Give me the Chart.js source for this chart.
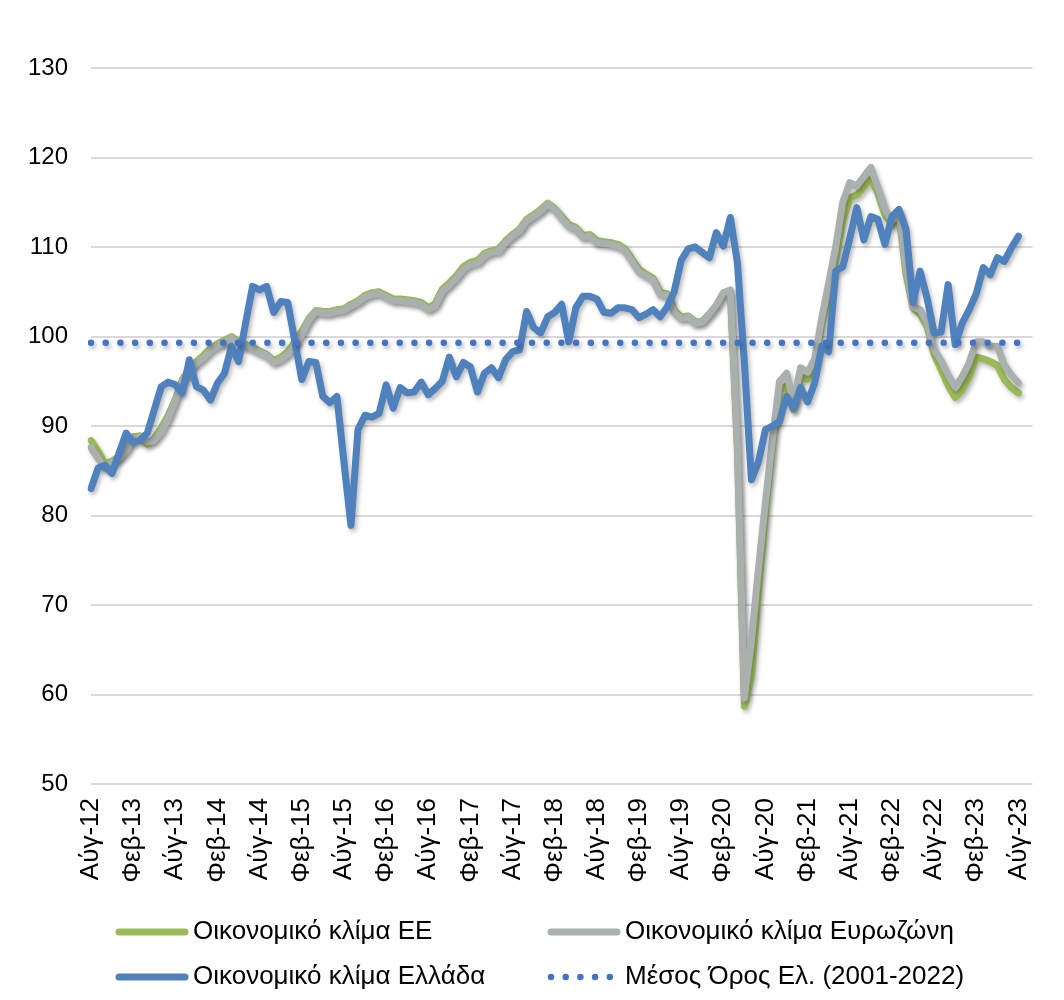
<!DOCTYPE html>
<html>
<head>
<meta charset="utf-8">
<script src="https://cdn.jsdelivr.net/npm/chart.js@4.4.0/dist/chart.umd.min.js"></script>
<style>
  body { margin: 0; background: #fff; }
  #wrap { width: 1064px; height: 1000px; }
</style>
</head>
<body>
<div id="wrap"><canvas id="climate-chart" width="1064" height="1000"></canvas></div>
<script>
// months from Aug 2012 to Aug 2023 (133 points)
const monthNames = ['Ιαν', 'Φεβ', 'Μαρ', 'Απρ', 'Μάι', 'Ιούν', 'Ιούλ', 'Αύγ', 'Σεπ', 'Οκτ', 'Νοέ', 'Δεκ'];
const startMonth = 7;   // Αύγ
const startYear = 12;
const pointCount = 133;
const extraSlots = 2;   // empty room on the right of the last point

const seriesNames = [
    'Οικονομικό κλίμα ΕΕ',
    'Οικονομικό κλίμα Ευρωζώνη',
    'Οικονομικό κλίμα Ελλάδα',
    'Μέσος Όρος Ελ. (2001-2022)'
];

const euClimate = [
    88.4, 87.2, 85.8, 86.1, 86.6, 87.4, 88.8, 88.9, 88.0, 88.6, 89.8, 91.2,
    93.0, 95.2, 96.4, 97.2, 97.9, 98.7, 99.2, 99.6, 100.0, 99.4, 99.1, 98.8,
    98.4, 98.0, 97.3, 97.7, 98.3, 99.4, 100.6, 102.0, 102.9, 102.8, 102.8, 103.0,
    103.1, 103.6, 104.0, 104.6, 104.9, 105.0, 104.6, 104.2, 104.2, 104.1, 104.0, 103.8,
    103.2, 103.7, 105.3, 106.0, 106.8, 107.8, 108.3, 108.5, 109.3, 109.6, 109.8, 110.7,
    111.4, 112.0, 113.1, 113.6, 114.2, 114.9, 114.3, 113.4, 112.5, 112.2, 111.3, 111.4,
    110.7, 110.6, 110.5, 110.3, 109.8, 108.6, 107.5, 107.0, 106.5, 104.9, 104.8, 102.9,
    102.2, 102.3, 101.6, 101.7, 102.5, 103.4, 104.7, 105.0, 87.5, 58.7, 62.0, 71.5,
    80.5, 88.0, 94.0, 94.5, 91.8, 95.5, 95.2, 96.5, 101.5, 104.5, 108.5, 113.0,
    115.5, 115.8, 116.7, 117.6, 116.0, 113.6, 112.5, 113.5, 107.0, 103.2, 102.5, 101.1,
    98.0, 96.3, 94.5, 93.2, 94.0, 95.5, 97.7, 97.5, 97.2, 96.8, 95.2, 94.3,
    93.7
];

const euroAreaClimate = [
    87.6, 86.4, 85.3, 85.9, 86.4, 87.2, 88.6, 88.8, 88.2, 88.4, 89.3, 90.8,
    92.8, 95.0, 96.2, 97.0, 97.6, 98.4, 98.9, 99.3, 99.8, 99.2, 98.9, 98.6,
    98.2, 97.9, 97.1, 97.4, 98.0, 99.0, 100.2, 101.8, 102.8, 102.6, 102.6, 102.8,
    102.9, 103.4, 103.8, 104.4, 104.7, 104.8, 104.4, 104.0, 104.0, 103.9, 103.8, 103.6,
    103.0, 103.4, 105.0, 105.7, 106.5, 107.5, 108.0, 108.2, 109.0, 109.4, 109.5, 110.5,
    111.2, 111.8, 112.9, 113.4, 114.0, 114.8, 114.2, 113.2, 112.3, 112.0, 111.1, 111.2,
    110.5, 110.4, 110.3, 110.1, 109.6, 108.4, 107.2, 106.8, 106.3, 104.7, 104.6, 102.7,
    102.0, 102.2, 101.5, 101.6, 102.5, 103.5, 104.9, 105.2, 88.0, 59.6, 66.0, 74.0,
    81.5, 88.5, 95.0, 95.9, 92.7, 96.5, 96.0, 97.5, 102.0, 106.0, 110.0, 115.0,
    117.2, 116.8, 117.9, 118.9, 116.6, 114.2, 112.9, 113.9, 107.8, 103.3, 103.0, 101.6,
    98.5, 97.3, 95.7, 94.4, 95.5, 97.1, 99.4, 99.4, 98.9, 98.9, 96.8, 95.7,
    94.8
];

const greeceClimate = [
    83.0, 85.3, 85.6, 84.7, 87.0, 89.2, 88.2, 88.4, 89.2, 91.8, 94.4, 94.9,
    94.6, 93.7, 97.4, 94.4, 94.0, 92.9, 94.8, 95.9, 98.9, 97.2, 101.5, 105.6,
    105.2, 105.6, 102.7, 103.9, 103.8, 99.5, 95.2, 97.2, 97.1, 93.3, 92.6, 93.3,
    86.0, 78.9, 89.6, 91.2, 91.0, 91.4, 94.6, 92.0, 94.3, 93.7, 93.8, 94.9,
    93.5, 94.2, 95.0, 97.7, 95.5, 97.1, 96.6, 93.8, 95.9, 96.5, 95.4, 97.4,
    98.3, 98.5, 102.8, 101.0, 100.4, 102.2, 102.7, 103.6, 99.4, 103.2, 104.5, 104.5,
    104.2, 102.7, 102.6, 103.2, 103.2, 103.0, 102.1, 102.5, 103.0, 102.2, 103.3, 105.0,
    108.5, 109.8, 110.0, 109.4, 108.8, 111.6, 110.1, 113.3, 108.3, 97.0, 84.0, 86.0,
    89.6, 90.0, 90.5, 93.3, 92.0, 94.3, 92.7, 94.8, 98.9, 98.3, 107.3, 107.8,
    111.0, 114.4, 110.8, 113.4, 113.1, 110.3, 113.4, 114.2, 112.0, 103.8, 107.3, 104.3,
    100.4, 100.5, 105.8, 99.1, 101.5, 103.0, 104.8, 107.7, 106.9, 108.8, 108.4, 109.9,
    111.2
];

const greeceAverage = 99.3;
const yTicks = { min: 50, max: 130, step: 10 };

const labels = [];
for (let k = 0; k < pointCount + extraSlots; k++) {
    const m = (startMonth + k) % 12;
    const y = startYear + Math.floor((startMonth + k) / 12);
    labels.push(`${monthNames[m]}-${y}`);
}

const FONT = "'Liberation Sans', Arial, sans-serif";

// soft drop shadow like the office chart
const shadowPlugin = {
    id: 'lineShadow',
    beforeDatasetDraw(chart) {
        const ctx = chart.ctx;
        ctx.save();
        ctx.shadowColor = 'rgba(0, 0, 0, 0.28)';
        ctx.shadowBlur = 4;
        ctx.shadowOffsetX = 2;
        ctx.shadowOffsetY = 3;
    },
    afterDatasetDraw(chart) {
        chart.ctx.restore();
    }
};

// two column legend at the bottom
const gridLegendPlugin = {
    id: 'gridLegend',
    afterDraw(chart, args, opts) {
        const ctx = chart.ctx;
        chart.data.datasets.forEach((ds, i) => {
            const x = opts.columns[i % 2];
            const y = opts.rows[Math.floor(i / 2)];
            ctx.save();
            ctx.strokeStyle = ds.borderColor;
            ctx.lineWidth = ds.borderWidth;
            ctx.lineCap = 'round';
            ctx.setLineDash(ds.borderDash || []);
            ctx.beginPath();
            ctx.moveTo(x + 3, y);
            ctx.lineTo(x + (ds.borderDash ? 62 : 69), y);
            ctx.stroke();
            ctx.restore();

            ctx.save();
            ctx.fillStyle = '#000';
            ctx.font = `26px ${FONT}`;
            ctx.textBaseline = 'middle';
            ctx.fillText(ds.label, x + opts.textGap, y);
            ctx.restore();
        });
    }
};

const ctx = document.getElementById('climate-chart').getContext('2d');
const chart = new Chart(ctx, {
    type: 'line',
    data: {
        labels: labels,
        datasets: [
            {
                label: seriesNames[0],
                data: euClimate,
                borderColor: '#9BBB59',
                borderWidth: 7,
                order: 3
            },
            {
                label: seriesNames[1],
                data: euroAreaClimate,
                borderColor: '#A9B0AE',
                borderWidth: 7,
                order: 2
            },
            {
                label: seriesNames[2],
                data: greeceClimate,
                borderColor: '#4F81BD',
                borderWidth: 7,
                order: 1
            },
            {
                label: seriesNames[3],
                data: [
                    { x: labels[0], y: greeceAverage },
                    { x: labels[pointCount - 1], y: greeceAverage }
                ],
                borderColor: '#4472C4',
                borderWidth: 6.5,
                borderDash: [0, 14.7],
                borderCapStyle: 'round',
                order: 0
            }
        ]
    },
    options: {
        responsive: false,
        animation: false,
        devicePixelRatio: 1,
        layout: {
            padding: { top: 68, right: 27, bottom: 0, left: 0 }
        },
        elements: {
            point: { radius: 0, hoverRadius: 0 },
            line: { tension: 0, borderJoinStyle: 'round', borderCapStyle: 'round', fill: false }
        },
        scales: {
            x: {
                type: 'category',
                offset: false,
                grid: { display: false, drawTicks: false },
                border: { display: false },
                ticks: {
                    autoSkip: false,
                    maxRotation: 90,
                    minRotation: 90,
                    padding: 14,
                    color: '#000',
                    font: { family: FONT, size: 26 },
                    callback: (value, index) => (index % 6 === 0 && index < pointCount) ? labels[index] : null
                },
                afterFit: (scale) => { scale.height = 216; }
            },
            y: {
                min: yTicks.min,
                max: yTicks.max,
                grid: { color: '#D9D9D9', lineWidth: 2, drawTicks: false },
                border: { display: false },
                ticks: {
                    stepSize: yTicks.step,
                    padding: 23,
                    color: '#000',
                    font: { family: FONT, size: 24 }
                },
                afterFit: (scale) => { scale.width = 91; }
            }
        },
        plugins: {
            legend: { display: false },
            tooltip: { enabled: false },
            gridLegend: {
                columns: [116, 548],
                rows: [932, 977],
                textGap: 77
            }
        }
    },
    plugins: [shadowPlugin, gridLegendPlugin]
});
</script>
</body>
</html>
